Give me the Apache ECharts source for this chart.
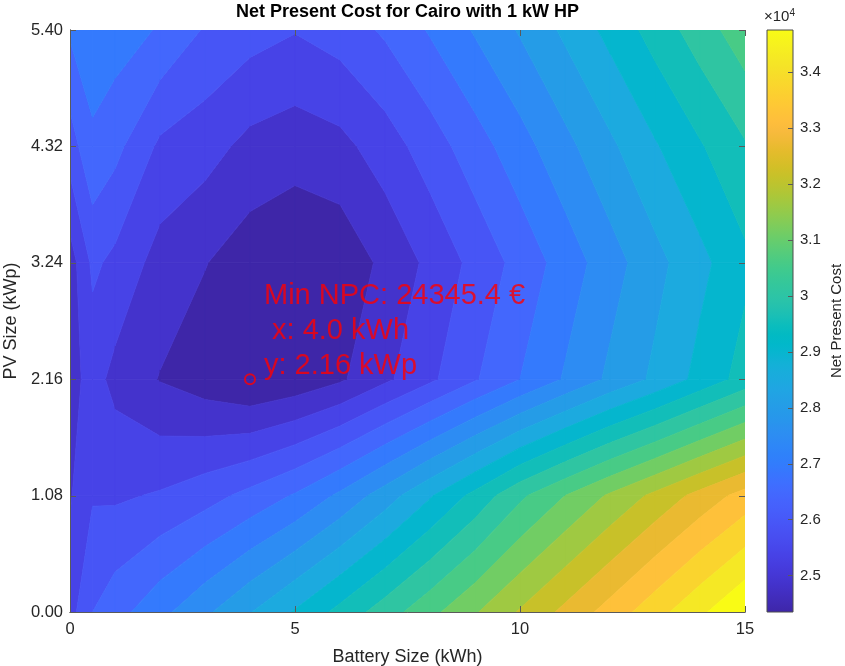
<!DOCTYPE html>
<html>
<head>
<meta charset="utf-8">
<script src="https://cdn.jsdelivr.net/npm/echarts@6/dist/echarts.min.js"></script>
<style>
  html, body { margin: 0; padding: 0; background: #ffffff; }
  #chart { width: 845px; height: 666px; }
</style>
</head>
<body>
<div id="chart"></div>
<script>
// Grid of the sweep: battery capacity (kWh) along x, PV size (kWp) along y
const batterySize = [0, 0.5, 1, 2, 3, 4, 5, 6, 7, 8, 9, 10, 11, 12, 13, 14, 15];
const pvSize = [0, 1.08, 2.16, 3.24, 4.32, 5.4];

// Net present cost (EUR), one row per PV size, one value per battery size
const npcPv000 = [25634, 26327, 26624, 27170, 27715, 28284, 28854, 29449, 30043, 30638, 31232, 31827, 32397, 32966, 33561, 34155, 34750];
const npcPv108 = [25287, 25782, 25758, 25881, 26129, 26476, 26872, 27417, 28061, 28755, 29449, 30192, 30786, 31356, 31901, 32446, 32966];
const npcPv216 = [25138, 25535, 25188, 24816, 24568, 24345.4, 24494, 24767, 25237, 25733, 26278, 26823, 27368, 27913, 28408, 28953, 29498];
const npcPv324 = [25089, 25931, 25708, 25138, 24861, 24568, 24420, 24494, 24960, 25455, 25980, 26501, 27041, 27596, 28146, 28666, 29186];
const npcPv432 = [26080, 26724, 26476, 25733, 25535, 25188, 25054, 25188, 25584, 26080, 26600, 27120, 27665, 28210, 28755, 29250, 29746];
const npcPv540 = [26897, 27120, 27070, 26773, 26278, 26030, 25857, 26055, 26402, 26872, 27368, 27863, 28408, 28953, 29498, 30043, 30588];
const npcRows = [npcPv000, npcPv108, npcPv216, npcPv324, npcPv432, npcPv540];

// Optimum reported in the annotation
const minNPC = 24345.4;
const minBattery = 4.0;
const minPV = 2.16;

// Axis ticks
const batteryTicks = [0, 5, 10, 15];
const pvTicks = [0, 1.08, 2.16, 3.24, 4.32, 5.4];
const colorbarTicks = [25000, 26000, 27000, 28000, 29000, 30000, 31000, 32000, 33000, 34000];

// Filled-contour band count
const bandCount = 21;

// parula colormap, 64 entries
const parula = [
  [0.2422,0.1504,0.6603],[0.2504,0.1650,0.7076],[0.2578,0.1818,0.7511],[0.2647,0.1978,0.7952],
  [0.2706,0.2147,0.8364],[0.2751,0.2342,0.8710],[0.2783,0.2559,0.8991],[0.2803,0.2782,0.9221],
  [0.2813,0.3006,0.9414],[0.2810,0.3228,0.9579],[0.2795,0.3447,0.9717],[0.2760,0.3667,0.9829],
  [0.2699,0.3892,0.9906],[0.2602,0.4123,0.9952],[0.2440,0.4358,0.9988],[0.2206,0.4603,0.9973],
  [0.1963,0.4847,0.9892],[0.1834,0.5074,0.9798],[0.1786,0.5289,0.9682],[0.1764,0.5499,0.9520],
  [0.1687,0.5703,0.9359],[0.1540,0.5902,0.9218],[0.1460,0.6091,0.9079],[0.1380,0.6276,0.8973],
  [0.1248,0.6459,0.8883],[0.1113,0.6635,0.8763],[0.0952,0.6798,0.8598],[0.0689,0.6948,0.8394],
  [0.0297,0.7082,0.8163],[0.0036,0.7203,0.7917],[0.0067,0.7312,0.7660],[0.0433,0.7411,0.7394],
  [0.0964,0.7500,0.7120],[0.1408,0.7584,0.6842],[0.1717,0.7670,0.6554],[0.1938,0.7758,0.6251],
  [0.2161,0.7843,0.5923],[0.2470,0.7918,0.5567],[0.2906,0.7973,0.5188],[0.3406,0.8008,0.4789],
  [0.3909,0.8029,0.4354],[0.4456,0.8024,0.3909],[0.5044,0.7993,0.3480],[0.5616,0.7942,0.3045],
  [0.6174,0.7876,0.2612],[0.6720,0.7793,0.2227],[0.7242,0.7698,0.1910],[0.7738,0.7598,0.1646],
  [0.8203,0.7498,0.1535],[0.8634,0.7406,0.1596],[0.9035,0.7330,0.1774],[0.9393,0.7288,0.2100],
  [0.9728,0.7298,0.2394],[0.9956,0.7434,0.2371],[0.9970,0.7659,0.2199],[0.9952,0.7893,0.2028],
  [0.9892,0.8136,0.1885],[0.9786,0.8386,0.1766],[0.9676,0.8639,0.1643],[0.9610,0.8890,0.1537],
  [0.9597,0.9135,0.1423],[0.9628,0.9373,0.1265],[0.9691,0.9606,0.1064],[0.9769,0.9839,0.0805]
];

function toCss(c) {
  return 'rgb(' + c.map(v => Math.round(v * 255)).join(',') + ')';
}
function parulaAt(t) {
  const p = Math.max(0, Math.min(1, t)) * (parula.length - 1);
  const i0 = Math.floor(p), i1 = Math.min(parula.length - 1, i0 + 1), f = p - i0;
  return toCss(parula[i0].map((v, k) => v + (parula[i1][k] - v) * f));
}

// Value range and contour levels
const allValues = npcRows.flat();
const zMin = Math.min(...allValues);
const zMax = Math.max(...allValues);
const levels = [];
for (let k = 1; k < bandCount; k++) levels.push(zMin + (zMax - zMin) * k / bandCount);
const bandColors = [];
for (let k = 0; k < bandCount; k++) bandColors.push(parulaAt(k / (bandCount - 1)));

// Clip a polygon (points [x, y, value]) against value >= level or value <= level
function clipPolygon(poly, level, keepAbove) {
  const out = [];
  for (let i = 0; i < poly.length; i++) {
    const a = poly[i], b = poly[(i + 1) % poly.length];
    const inA = keepAbove ? a[2] >= level : a[2] <= level;
    const inB = keepAbove ? b[2] >= level : b[2] <= level;
    if (inA) out.push(a);
    if (inA !== inB) {
      const t = (level - a[2]) / (b[2] - a[2]);
      out.push([a[0] + t * (b[0] - a[0]), a[1] + t * (b[1] - a[1]), level]);
    }
  }
  return out;
}

// One data item per grid cell
const cells = [];
for (let j = 0; j < pvSize.length - 1; j++) {
  for (let i = 0; i < batterySize.length - 1; i++) {
    cells.push([batterySize[i], pvSize[j], i, j]);
  }
}

function renderCell(params, api) {
  const i = api.value(2), j = api.value(3);
  const quad = [
    [batterySize[i], pvSize[j], npcRows[j][i]],
    [batterySize[i + 1], pvSize[j], npcRows[j][i + 1]],
    [batterySize[i + 1], pvSize[j + 1], npcRows[j + 1][i + 1]],
    [batterySize[i], pvSize[j + 1], npcRows[j + 1][i]]
  ];
  const children = [];
  for (let k = 0; k < bandCount; k++) {
    let poly = quad;
    if (k > 0) poly = clipPolygon(poly, levels[k - 1], true);
    if (poly.length >= 3 && k < bandCount - 1) poly = clipPolygon(poly, levels[k], false);
    if (poly.length < 3) continue;
    children.push({
      type: 'polygon',
      shape: { points: poly.map(p => api.coord([p[0], p[1]])) },
      style: { fill: bandColors[k], stroke: bandColors[k], lineWidth: 0.8 }
    });
  }
  return { type: 'group', children: children };
}

const LINE_COLOR = '#5a5a5a';
const TICK_LEN = 6;

// Inward tick marks on all four sides of the plot box
function renderBoxTicks(params, api) {
  const children = [];
  const seg = (x1, y1, x2, y2) => children.push({
    type: 'line', shape: { x1: x1, y1: y1, x2: x2, y2: y2 },
    style: { stroke: LINE_COLOR, lineWidth: 1 }
  });
  const xMin = batteryTicks[0], xMax = batteryTicks[batteryTicks.length - 1];
  const yMin = pvTicks[0], yMax = pvTicks[pvTicks.length - 1];
  batteryTicks.forEach(v => {
    const b = api.coord([v, yMin]), t = api.coord([v, yMax]);
    const x = Math.round(b[0]) + 0.5;
    seg(x, b[1], x, b[1] - TICK_LEN);
    seg(x, t[1], x, t[1] + TICK_LEN);
  });
  pvTicks.forEach(v => {
    const l = api.coord([xMin, v]), r = api.coord([xMax, v]);
    const y = Math.round(l[1]) + 0.5;
    seg(l[0], y, l[0] + TICK_LEN, y);
    seg(r[0], y, r[0] - TICK_LEN, y);
  });
  return { type: 'group', children: children };
}

// Continuous colour scale with its tick marks on the right edge
function renderColorbar(params, api) {
  const p0 = api.coord([0, zMin]);
  const p1 = api.coord([1, zMax]);
  const stops = parula.map((c, i) => ({ offset: i / (parula.length - 1), color: toCss(c) }));
  const children = [{
    type: 'rect',
    shape: { x: p0[0], y: p1[1], width: p1[0] - p0[0], height: p0[1] - p1[1] },
    style: {
      fill: new echarts.graphic.LinearGradient(0, 1, 0, 0, stops),
      stroke: '#4d4d4d',
      lineWidth: 1
    }
  }];
  colorbarTicks.forEach(v => {
    const p = api.coord([1, v]);
    const y = Math.round(p[1]) + 0.5;
    children.push({
      type: 'line',
      shape: { x1: p[0] - 5, y1: y, x2: p[0], y2: y },
      style: { stroke: LINE_COLOR, lineWidth: 1 }
    });
  });
  return { type: 'group', children: children };
}

const FONT = '"Liberation Sans", Arial, Helvetica, sans-serif';
const AXIS_COLOR = '#262626';

// Boxed axes drawn above the filled contours
const boxAxis = {
  z: 5,
  axisLine: { show: true, lineStyle: { color: LINE_COLOR, width: 1 } },
  axisTick: { show: false },
  splitLine: { show: false }
};

const chart = echarts.init(document.getElementById('chart'), null, { renderer: 'canvas' });

chart.setOption({
  animation: false,
  backgroundColor: '#ffffff',
  textStyle: { fontFamily: FONT },
  grid: [
    { left: 70, top: 30, width: 675, height: 582, containLabel: false, outerBoundsMode: 'none' },
    { left: 767, top: 30, width: 26, height: 582, containLabel: false, outerBoundsMode: 'none' }
  ],
  graphic: [
    {
      type: 'text', x: 407.5, y: 12, z: 20,
      style: {
        text: 'Net Present Cost for Cairo with 1 kW HP',
        font: 'bold 18px ' + FONT, fill: '#000000',
        textAlign: 'center', textVerticalAlign: 'middle'
      }
    },
    {
      type: 'text', x: 764, y: 8, z: 20,
      style: {
        text: '×10{sup|4}',
        font: '15px ' + FONT, fill: AXIS_COLOR,
        rich: { sup: { fontSize: 10, fontFamily: FONT, fill: AXIS_COLOR, verticalAlign: 'top', padding: [0, 0, 7, 0] } }
      }
    }
  ],
  xAxis: [
    Object.assign({
      gridIndex: 0, type: 'value', position: 'bottom', min: 0, max: 15, interval: 5,
      axisLabel: { show: true, color: AXIS_COLOR, fontSize: 16.5, fontFamily: FONT, margin: 9 },
      name: 'Battery Size (kWh)', nameLocation: 'middle', nameGap: 36,
      nameTextStyle: { color: AXIS_COLOR, fontSize: 18, fontFamily: FONT }
    }, boxAxis),
    Object.assign({
      gridIndex: 0, type: 'value', position: 'top', min: 0, max: 15, interval: 5,
      axisLabel: { show: false }
    }, boxAxis),
    {
      gridIndex: 1, type: 'value', min: 0, max: 1, show: false
    }
  ],
  yAxis: [
    Object.assign({
      gridIndex: 0, type: 'value', position: 'left', min: 0, max: 5.4, interval: 1.08,
      axisLabel: { show: true, color: AXIS_COLOR, fontSize: 16.5, fontFamily: FONT, margin: 7,
        formatter: v => v.toFixed(2) },
      name: 'PV Size (kWp)', nameLocation: 'middle', nameGap: 40, nameRotate: 90,
      nameTextStyle: { color: AXIS_COLOR, fontSize: 18, fontFamily: FONT }
    }, boxAxis),
    Object.assign({
      gridIndex: 0, type: 'value', position: 'right', min: 0, max: 5.4, interval: 1.08,
      axisLabel: { show: false }
    }, boxAxis),
    {
      gridIndex: 1, type: 'value', position: 'right', min: zMin, max: zMax,
      axisLine: { show: false },
      axisTick: { show: false },
      axisLabel: { show: true, customValues: colorbarTicks, color: AXIS_COLOR, fontSize: 15,
        fontFamily: FONT, margin: 7, formatter: v => String(Math.round(v / 1000) / 10) },
      splitLine: { show: false },
      name: 'Net Present Cost', nameLocation: 'middle', nameGap: 36, nameRotate: 90,
      nameTextStyle: { color: AXIS_COLOR, fontSize: 15, fontFamily: FONT }
    }
  ],
  series: [
    {
      name: 'NPC contours', type: 'custom', xAxisIndex: 0, yAxisIndex: 0,
      coordinateSystem: 'cartesian2d', silent: true, clip: true,
      encode: { x: 0, y: 1 },
      data: cells,
      renderItem: renderCell,
      z: 1
    },
    {
      name: 'Box ticks', type: 'custom', xAxisIndex: 0, yAxisIndex: 0,
      coordinateSystem: 'cartesian2d', silent: true,
      encode: { x: 0, y: 1 },
      data: [[0, 0]],
      renderItem: renderBoxTicks,
      z: 6
    },
    {
      name: 'Colorbar', type: 'custom', xAxisIndex: 2, yAxisIndex: 2,
      coordinateSystem: 'cartesian2d', silent: true,
      encode: { x: 0, y: 1 },
      data: [[0, zMin]],
      renderItem: renderColorbar,
      z: 1
    },
    {
      name: 'Minimum', type: 'scatter', xAxisIndex: 0, yAxisIndex: 0,
      data: [[minBattery, minPV]],
      symbol: 'circle', symbolSize: 10, silent: true, z: 10,
      itemStyle: { color: 'rgba(0,0,0,0)', borderColor: '#ff0000', borderWidth: 2 },
      label: {
        show: true,
        position: [20, -95],
        align: 'left', verticalAlign: 'top',
        color: '#ff0000', fontSize: 29, fontFamily: FONT, lineHeight: 35,
        formatter: () => 'Min NPC: ' + minNPC.toFixed(1) + ' €\n x: ' + minBattery.toFixed(1) +
          ' kWh\ny: ' + minPV.toFixed(2) + ' kWp'
      }
    }
  ]
});
</script>
</body>
</html>
